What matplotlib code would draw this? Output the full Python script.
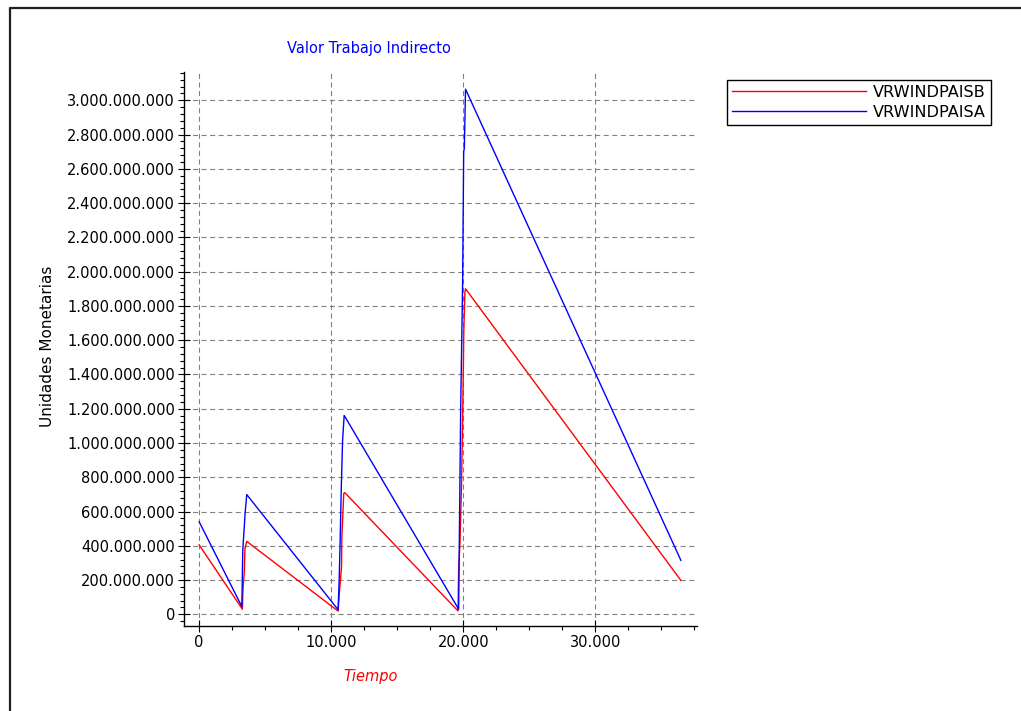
import matplotlib
matplotlib.use("Agg")
import matplotlib.pyplot as plt
from matplotlib.ticker import MultipleLocator, FuncFormatter
from matplotlib.lines import Line2D

# Series values (time, monetary units)
tiempo_b = [0, 3270, 3300, 3330, 3420, 3460, 3600,
            10520, 10600, 10650, 10780, 10800, 10950, 11030,
            19600, 19650, 19750, 19860, 19960, 20040, 20120, 20170,
            36480]
valor_b = [405e6, 30e6, 110e6, 160e6, 250e6, 380e6, 426e6,
           19e6, 110e6, 158e6, 276e6, 444e6, 706e6, 710e6,
           20e6, 263e6, 420e6, 730e6, 1179e6, 1652e6, 1879e6, 1900e6,
           198e6]

tiempo_a = [0, 3230, 3300, 3480, 3600,
            10520, 10600, 10680, 10760, 10860, 10980,
            19650, 19700, 19800, 19950, 20030, 20080, 20170,
            36480]
valor_a = [540e6, 45e6, 373e6, 591e6, 699e6,
           27e6, 198e6, 444e6, 735e6, 1015e6, 1161e6,
           30e6, 420e6, 1180e6, 1930e6, 2700e6, 2720e6, 3065e6,
           315e6]

nombre_b = "VRWINDPAISB"
nombre_a = "VRWINDPAISA"
titulo = "Valor Trabajo Indirecto"
etiqueta_x = "Tiempo"
etiqueta_y = "Unidades Monetarias"

W, H = 1021, 711
fig = plt.figure(figsize=(W / 100, H / 100), dpi=100)
fig.patch.set_facecolor("white")

left, right, bottom, top = 184, 697, 626, 72
ax = fig.add_axes([left / W, 1 - bottom / H, (right - left) / W, (bottom - top) / H])

ax.plot(tiempo_b, valor_b, color="#ff0000", lw=1.0, label=nombre_b, zorder=3)
ax.plot(tiempo_a, valor_a, color="#0000ff", lw=1.0, label=nombre_a, zorder=3)

ax.set_xlim(-1150, 37700)
ax.set_ylim(-68e6, 3165e6)

ax.xaxis.set_major_locator(MultipleLocator(10000))
ax.xaxis.set_minor_locator(MultipleLocator(2500))
ax.yaxis.set_major_locator(MultipleLocator(200e6))
ax.yaxis.set_minor_locator(MultipleLocator(40e6))

fmt = FuncFormatter(lambda v, p: f"{int(round(v)):,}".replace(",", "."))
ax.xaxis.set_major_formatter(fmt)
ax.yaxis.set_major_formatter(fmt)

for s in ("top", "right"):
    ax.spines[s].set_visible(False)
for s in ("left", "bottom"):
    ax.spines[s].set_linewidth(1.0)
    ax.spines[s].set_color("black")

ax.tick_params(which="major", direction="inout", length=9, width=0.8,
               labelsize=10.5, pad=2, colors="black")
ax.tick_params(which="minor", direction="out", length=3, width=0.8, colors="black")

ax.grid(True, which="major", color="#808080", lw=0.8, linestyle=(0, (4.5, 3.2)), zorder=1)
ax.set_axisbelow(True)

fig.text(369 / W, 1 - 49 / H, titulo, color="#0000ff", fontsize=10.5,
         ha="center", va="center")
fig.text(371 / W, 1 - 676 / H, etiqueta_x, color="#ff0000", fontsize=10.5,
         style="italic", ha="center", va="center")
fig.text(47 / W, 1 - 346 / H, etiqueta_y, color="black", fontsize=11,
         rotation=90, ha="center", va="center")

leg = fig.legend(loc="upper left", bbox_to_anchor=(727 / W, 1 - 80 / H),
                 bbox_transform=fig.transFigure, borderaxespad=0,
                 fontsize=11.6, handlelength=8.3, handletextpad=0.45,
                 labelspacing=0.3, borderpad=0.3, fancybox=False,
                 framealpha=1, edgecolor="black")
leg.get_frame().set_linewidth(1.0)

# Outer frame around the figure
fig.add_artist(Line2D([10 / W, 10 / W, 1.01], [-0.01, 1 - 8 / H, 1 - 8 / H],
                      transform=fig.transFigure, color="#202020", lw=1.6))

fig.savefig("out.png", dpi=100, facecolor="white")
